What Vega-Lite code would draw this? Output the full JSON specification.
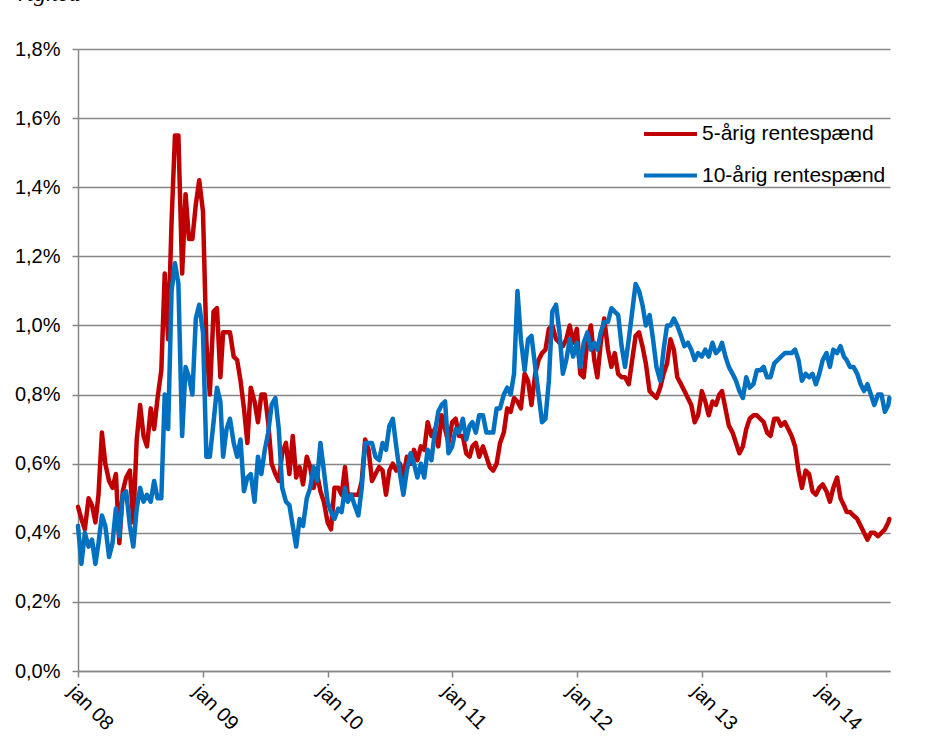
{
  "$schema": "https://vega.github.io/schema/vega-lite/v6.json",
  "width": 812,
  "height": 622,
  "autosize": {"type": "none"},
  "padding": {"left": 78, "top": 49, "right": 54, "bottom": 78},
  "background": "white",
  "title": {"text": "righed", "anchor": "start", "frame": "group", "font": "Liberation Serif", "fontStyle": "italic", "fontWeight": "normal", "fontSize": 24, "color": "black", "baseline": "alphabetic", "offset": 14, "dx": -60},
  "data": {"values": [
{"dato":"2008-01-01","r5":0.475,"r10":0.42},{"dato":"2008-01-11","r5":0.44,"r10":0.31},{"dato":"2008-01-21","r5":0.41,"r10":0.40},
{"dato":"2008-02-01","r5":0.50,"r10":0.36},{"dato":"2008-02-11","r5":0.48,"r10":0.38},{"dato":"2008-02-21","r5":0.43,"r10":0.31},
{"dato":"2008-03-01","r5":0.51,"r10":0.37},{"dato":"2008-03-11","r5":0.69,"r10":0.45},{"dato":"2008-03-21","r5":0.60,"r10":0.42},
{"dato":"2008-04-01","r5":0.55,"r10":0.33},{"dato":"2008-04-11","r5":0.53,"r10":0.37},{"dato":"2008-04-21","r5":0.57,"r10":0.47},
{"dato":"2008-05-01","r5":0.37,"r10":0.39},{"dato":"2008-05-11","r5":0.52,"r10":0.51},{"dato":"2008-05-21","r5":0.56,"r10":0.52},
{"dato":"2008-06-01","r5":0.58,"r10":0.42},{"dato":"2008-06-11","r5":0.43,"r10":0.36},{"dato":"2008-06-21","r5":0.67,"r10":0.47},
{"dato":"2008-07-01","r5":0.77,"r10":0.53},{"dato":"2008-07-11","r5":0.68,"r10":0.49},{"dato":"2008-07-21","r5":0.65,"r10":0.51},
{"dato":"2008-08-01","r5":0.76,"r10":0.49},{"dato":"2008-08-11","r5":0.70,"r10":0.55},{"dato":"2008-08-21","r5":0.79,"r10":0.50},
{"dato":"2008-09-01","r5":0.87,"r10":0.50},{"dato":"2008-09-11","r5":1.15,"r10":0.80},{"dato":"2008-09-21","r5":0.96,"r10":0.70},
{"dato":"2008-10-01","r5":1.30,"r10":1.10},{"dato":"2008-10-11","r5":1.55,"r10":1.18},{"dato":"2008-10-21","r5":1.55,"r10":1.12},
{"dato":"2008-11-01","r5":1.15,"r10":0.68},{"dato":"2008-11-11","r5":1.38,"r10":0.88},{"dato":"2008-11-21","r5":1.25,"r10":0.85},
{"dato":"2008-12-01","r5":1.25,"r10":0.80},{"dato":"2008-12-11","r5":1.35,"r10":1.02},{"dato":"2008-12-21","r5":1.42,"r10":1.06},
{"dato":"2009-01-01","r5":1.33,"r10":0.98},{"dato":"2009-01-11","r5":0.95,"r10":0.62},{"dato":"2009-01-21","r5":0.80,"r10":0.62},
{"dato":"2009-02-01","r5":1.04,"r10":0.72},{"dato":"2009-02-11","r5":1.05,"r10":0.82},{"dato":"2009-02-21","r5":0.85,"r10":0.78},
{"dato":"2009-03-01","r5":0.98,"r10":0.62},{"dato":"2009-03-11","r5":0.98,"r10":0.70},{"dato":"2009-03-21","r5":0.98,"r10":0.73},
{"dato":"2009-04-01","r5":0.91,"r10":0.66},{"dato":"2009-04-11","r5":0.90,"r10":0.62},{"dato":"2009-04-21","r5":0.84,"r10":0.67},
{"dato":"2009-05-01","r5":0.76,"r10":0.52},{"dato":"2009-05-11","r5":0.66,"r10":0.56},{"dato":"2009-05-21","r5":0.82,"r10":0.57},
{"dato":"2009-06-01","r5":0.78,"r10":0.49},{"dato":"2009-06-11","r5":0.72,"r10":0.62},{"dato":"2009-06-21","r5":0.80,"r10":0.57},
{"dato":"2009-07-01","r5":0.80,"r10":0.64},{"dato":"2009-07-11","r5":0.72,"r10":0.69},{"dato":"2009-07-21","r5":0.60,"r10":0.77},
{"dato":"2009-08-01","r5":0.57,"r10":0.79},{"dato":"2009-08-11","r5":0.55,"r10":0.70},{"dato":"2009-08-21","r5":0.63,"r10":0.53},
{"dato":"2009-09-01","r5":0.66,"r10":0.49},{"dato":"2009-09-11","r5":0.57,"r10":0.48},{"dato":"2009-09-21","r5":0.68,"r10":0.42},
{"dato":"2009-10-01","r5":0.56,"r10":0.36},{"dato":"2009-10-11","r5":0.59,"r10":0.44},{"dato":"2009-10-21","r5":0.54,"r10":0.42},
{"dato":"2009-11-01","r5":0.62,"r10":0.50},{"dato":"2009-11-11","r5":0.59,"r10":0.53},{"dato":"2009-11-21","r5":0.53,"r10":0.59},
{"dato":"2009-12-01","r5":0.57,"r10":0.55},{"dato":"2009-12-11","r5":0.52,"r10":0.66},{"dato":"2009-12-21","r5":0.49,"r10":0.58},
{"dato":"2010-01-01","r5":0.43,"r10":0.49},{"dato":"2010-01-11","r5":0.41,"r10":0.46},{"dato":"2010-01-21","r5":0.53,"r10":0.44},
{"dato":"2010-02-01","r5":0.53,"r10":0.47},{"dato":"2010-02-11","r5":0.51,"r10":0.46},{"dato":"2010-02-21","r5":0.59,"r10":0.53},
{"dato":"2010-03-01","r5":0.51,"r10":0.49},{"dato":"2010-03-11","r5":0.51,"r10":0.51},{"dato":"2010-03-21","r5":0.51,"r10":0.48},
{"dato":"2010-04-01","r5":0.51,"r10":0.45},{"dato":"2010-04-11","r5":0.55,"r10":0.53},{"dato":"2010-04-21","r5":0.67,"r10":0.66},
{"dato":"2010-05-01","r5":0.64,"r10":0.66},{"dato":"2010-05-11","r5":0.55,"r10":0.66},{"dato":"2010-05-21","r5":0.57,"r10":0.62},
{"dato":"2010-06-01","r5":0.59,"r10":0.61},{"dato":"2010-06-11","r5":0.58,"r10":0.66},{"dato":"2010-06-21","r5":0.51,"r10":0.64},
{"dato":"2010-07-01","r5":0.58,"r10":0.71},{"dato":"2010-07-11","r5":0.60,"r10":0.73},{"dato":"2010-07-21","r5":0.58,"r10":0.65},
{"dato":"2010-08-01","r5":0.60,"r10":0.57},{"dato":"2010-08-11","r5":0.56,"r10":0.51},{"dato":"2010-08-21","r5":0.62,"r10":0.58},
{"dato":"2010-09-01","r5":0.60,"r10":0.63},{"dato":"2010-09-11","r5":0.64,"r10":0.60},{"dato":"2010-09-21","r5":0.61,"r10":0.56},
{"dato":"2010-10-01","r5":0.65,"r10":0.60},{"dato":"2010-10-11","r5":0.64,"r10":0.56},{"dato":"2010-10-21","r5":0.72,"r10":0.64},
{"dato":"2010-11-01","r5":0.68,"r10":0.61},{"dato":"2010-11-11","r5":0.70,"r10":0.69},{"dato":"2010-11-21","r5":0.65,"r10":0.75},
{"dato":"2010-12-01","r5":0.74,"r10":0.77},{"dato":"2010-12-11","r5":0.70,"r10":0.78},{"dato":"2010-12-21","r5":0.66,"r10":0.63},
{"dato":"2011-01-01","r5":0.72,"r10":0.65},{"dato":"2011-01-11","r5":0.73,"r10":0.70},{"dato":"2011-01-21","r5":0.68,"r10":0.69},
{"dato":"2011-02-01","r5":0.68,"r10":0.73},{"dato":"2011-02-11","r5":0.63,"r10":0.67},{"dato":"2011-02-21","r5":0.62,"r10":0.71},
{"dato":"2011-03-01","r5":0.65,"r10":0.72},{"dato":"2011-03-11","r5":0.66,"r10":0.69},{"dato":"2011-03-21","r5":0.62,"r10":0.74},
{"dato":"2011-04-01","r5":0.65,"r10":0.74},{"dato":"2011-04-11","r5":0.62,"r10":0.69},{"dato":"2011-04-21","r5":0.59,"r10":0.69},
{"dato":"2011-05-01","r5":0.58,"r10":0.69},{"dato":"2011-05-11","r5":0.60,"r10":0.76},{"dato":"2011-05-21","r5":0.66,"r10":0.76},
{"dato":"2011-06-01","r5":0.69,"r10":0.80},{"dato":"2011-06-11","r5":0.76,"r10":0.82},{"dato":"2011-06-21","r5":0.75,"r10":0.80},
{"dato":"2011-07-01","r5":0.79,"r10":0.86},{"dato":"2011-07-11","r5":0.78,"r10":1.10},{"dato":"2011-07-21","r5":0.76,"r10":0.96},
{"dato":"2011-08-01","r5":0.86,"r10":0.87},{"dato":"2011-08-11","r5":0.84,"r10":0.96},{"dato":"2011-08-21","r5":0.77,"r10":0.97},
{"dato":"2011-09-01","r5":0.86,"r10":0.88},{"dato":"2011-09-11","r5":0.90,"r10":0.80},{"dato":"2011-09-21","r5":0.92,"r10":0.72},
{"dato":"2011-10-01","r5":0.93,"r10":0.73},{"dato":"2011-10-11","r5":0.99,"r10":0.84},{"dato":"2011-10-21","r5":1.00,"r10":1.04},
{"dato":"2011-11-01","r5":0.96,"r10":1.06},{"dato":"2011-11-11","r5":0.95,"r10":0.98},{"dato":"2011-11-21","r5":0.94,"r10":0.86},
{"dato":"2011-12-01","r5":0.96,"r10":0.90},{"dato":"2011-12-11","r5":1.00,"r10":0.96},{"dato":"2011-12-21","r5":0.95,"r10":0.91},
{"dato":"2012-01-01","r5":0.99,"r10":0.95},{"dato":"2012-01-11","r5":0.86,"r10":0.88},{"dato":"2012-01-21","r5":0.85,"r10":0.95},
{"dato":"2012-02-01","r5":0.96,"r10":0.98},{"dato":"2012-02-11","r5":1.00,"r10":0.93},{"dato":"2012-02-21","r5":0.90,"r10":0.95},
{"dato":"2012-03-01","r5":0.85,"r10":0.93},{"dato":"2012-03-11","r5":0.95,"r10":0.98},{"dato":"2012-03-21","r5":1.02,"r10":1.01},
{"dato":"2012-04-01","r5":0.93,"r10":1.01},{"dato":"2012-04-11","r5":0.88,"r10":1.05},{"dato":"2012-04-21","r5":0.92,"r10":1.04},
{"dato":"2012-05-01","r5":0.86,"r10":1.03},{"dato":"2012-05-11","r5":0.85,"r10":0.94},{"dato":"2012-05-21","r5":0.85,"r10":0.88},
{"dato":"2012-06-01","r5":0.83,"r10":0.96},{"dato":"2012-06-11","r5":0.90,"r10":1.04},{"dato":"2012-06-21","r5":0.97,"r10":1.12},
{"dato":"2012-07-01","r5":0.98,"r10":1.10},{"dato":"2012-07-11","r5":0.94,"r10":1.06},{"dato":"2012-07-21","r5":0.89,"r10":1.00},
{"dato":"2012-08-01","r5":0.81,"r10":1.03},{"dato":"2012-08-11","r5":0.80,"r10":0.96},{"dato":"2012-08-21","r5":0.79,"r10":0.88},
{"dato":"2012-09-01","r5":0.82,"r10":0.84},{"dato":"2012-09-11","r5":0.86,"r10":0.93},{"dato":"2012-09-21","r5":0.89,"r10":1.00},
{"dato":"2012-10-01","r5":0.96,"r10":1.00},{"dato":"2012-10-11","r5":0.93,"r10":1.02},{"dato":"2012-10-21","r5":0.85,"r10":1.00},
{"dato":"2012-11-01","r5":0.83,"r10":0.97},{"dato":"2012-11-11","r5":0.81,"r10":0.94},{"dato":"2012-11-21","r5":0.79,"r10":0.95},
{"dato":"2012-12-01","r5":0.77,"r10":0.93},{"dato":"2012-12-11","r5":0.72,"r10":0.90},{"dato":"2012-12-21","r5":0.74,"r10":0.92},
{"dato":"2013-01-01","r5":0.81,"r10":0.91},{"dato":"2013-01-11","r5":0.78,"r10":0.93},{"dato":"2013-01-21","r5":0.74,"r10":0.91},
{"dato":"2013-02-01","r5":0.78,"r10":0.95},{"dato":"2013-02-11","r5":0.77,"r10":0.92},{"dato":"2013-02-21","r5":0.80,"r10":0.93},
{"dato":"2013-03-01","r5":0.81,"r10":0.95},{"dato":"2013-03-11","r5":0.76,"r10":0.91},{"dato":"2013-03-21","r5":0.71,"r10":0.88},
{"dato":"2013-04-01","r5":0.69,"r10":0.86},{"dato":"2013-04-11","r5":0.66,"r10":0.84},{"dato":"2013-04-21","r5":0.63,"r10":0.81},
{"dato":"2013-05-01","r5":0.65,"r10":0.79},{"dato":"2013-05-11","r5":0.70,"r10":0.85},{"dato":"2013-05-21","r5":0.73,"r10":0.82},
{"dato":"2013-06-01","r5":0.74,"r10":0.83},{"dato":"2013-06-11","r5":0.74,"r10":0.87},{"dato":"2013-06-21","r5":0.73,"r10":0.87},
{"dato":"2013-07-01","r5":0.72,"r10":0.88},{"dato":"2013-07-11","r5":0.69,"r10":0.85},{"dato":"2013-07-21","r5":0.68,"r10":0.85},
{"dato":"2013-08-01","r5":0.73,"r10":0.89},{"dato":"2013-08-11","r5":0.73,"r10":0.90},{"dato":"2013-08-21","r5":0.71,"r10":0.91},
{"dato":"2013-09-01","r5":0.72,"r10":0.92},{"dato":"2013-09-11","r5":0.70,"r10":0.92},{"dato":"2013-09-21","r5":0.68,"r10":0.92},
{"dato":"2013-10-01","r5":0.65,"r10":0.93},{"dato":"2013-10-11","r5":0.58,"r10":0.90},{"dato":"2013-10-21","r5":0.53,"r10":0.84},
{"dato":"2013-11-01","r5":0.58,"r10":0.86},{"dato":"2013-11-11","r5":0.57,"r10":0.85},{"dato":"2013-11-21","r5":0.52,"r10":0.86},
{"dato":"2013-12-01","r5":0.51,"r10":0.83},{"dato":"2013-12-11","r5":0.53,"r10":0.86},{"dato":"2013-12-21","r5":0.54,"r10":0.90},
{"dato":"2014-01-01","r5":0.52,"r10":0.92},{"dato":"2014-01-11","r5":0.49,"r10":0.88},{"dato":"2014-01-21","r5":0.53,"r10":0.93},
{"dato":"2014-02-01","r5":0.56,"r10":0.92},{"dato":"2014-02-11","r5":0.50,"r10":0.94},{"dato":"2014-02-21","r5":0.48,"r10":0.91},
{"dato":"2014-03-01","r5":0.46,"r10":0.90},{"dato":"2014-03-11","r5":0.46,"r10":0.88},{"dato":"2014-03-21","r5":0.45,"r10":0.88},
{"dato":"2014-04-01","r5":0.44,"r10":0.86},{"dato":"2014-04-11","r5":0.42,"r10":0.83},{"dato":"2014-04-21","r5":0.40,"r10":0.81},
{"dato":"2014-05-01","r5":0.38,"r10":0.83},{"dato":"2014-05-11","r5":0.40,"r10":0.80},{"dato":"2014-05-21","r5":0.40,"r10":0.77},
{"dato":"2014-06-01","r5":0.39,"r10":0.80},{"dato":"2014-06-11","r5":0.40,"r10":0.80},{"dato":"2014-06-21","r5":0.41,"r10":0.75},
{"dato":"2014-07-01","r5":0.43,"r10":0.77},{"dato":"2014-07-04","r5":0.44,"r10":0.79}
  ]},
  "transform": [
    {"fold": ["r5", "r10"], "as": ["key", "pct"]},
    {"calculate": "datum.key === 'r5' ? '5-årig rentespænd' : '10-årig rentespænd'", "as": "serie"}
  ],
  "mark": {"type": "line", "strokeWidth": 4.5, "strokeJoin": "round", "strokeCap": "round"},
  "encoding": {
    "x": {
      "field": "dato", "type": "temporal",
      "scale": {"type": "utc", "domain": [{"year": 2008, "month": 1, "date": 1, "utc": true}, {"year": 2014, "month": 7, "date": 6, "utc": true}]},
      "axis": {
        "title": null,
        "values": [
          {"year": 2008, "month": 1, "date": 1, "utc": true},
          {"year": 2009, "month": 1, "date": 1, "utc": true},
          {"year": 2010, "month": 1, "date": 1, "utc": true},
          {"year": 2011, "month": 1, "date": 1, "utc": true},
          {"year": 2012, "month": 1, "date": 1, "utc": true},
          {"year": 2013, "month": 1, "date": 1, "utc": true},
          {"year": 2014, "month": 1, "date": 1, "utc": true}
        ],
        "labelExpr": "'jan ' + utcFormat(datum.value, '%y')",
        "labelAngle": 45, "labelAlign": "left", "labelBaseline": "top",
        "labelFont": "Liberation Sans", "labelFontSize": 20, "labelColor": "black",
        "labelPadding": 4, "labelOverlap": false, "labelBound": false, "labelFlush": false,
        "tickColor": "#868686", "tickSize": 6, "tickWidth": 1.5,
        "domainColor": "#868686", "domainWidth": 1.5, "grid": false
      }
    },
    "y": {
      "field": "pct", "type": "quantitative",
      "scale": {"domain": [0, 1.8], "nice": false, "zero": true},
      "axis": {
        "title": null,
        "values": [0, 0.2, 0.4, 0.6, 0.8, 1.0, 1.2, 1.4, 1.6, 1.8],
        "labelExpr": "replace(format(datum.value, '.1f'), '.', ',') + '%'",
        "labelFont": "Liberation Sans", "labelFontSize": 20, "labelColor": "black",
        "labelPadding": 12,
        "tickColor": "#868686", "tickSize": 6, "tickWidth": 1.5,
        "domainColor": "#868686", "domainWidth": 1.5,
        "grid": true, "gridColor": "#868686", "gridWidth": 1.5
      }
    },
    "color": {
      "field": "serie", "type": "nominal",
      "scale": {"domain": ["5-årig rentespænd", "10-årig rentespænd"], "range": ["#C00000", "#0070C0"]},
      "legend": {
        "title": null, "orient": "none", "legendX": 564, "legendY": 65,
        "symbolType": "stroke", "symbolSize": 2800, "symbolStrokeWidth": 4,
        "clipHeight": 40, "rowPadding": 1.5, "labelOffset": 3, "labelLimit": 0,
        "labelFont": "Liberation Sans", "labelFontSize": 21, "labelColor": "black"
      }
    }
  },
  "config": {"view": {"stroke": null}}
}
